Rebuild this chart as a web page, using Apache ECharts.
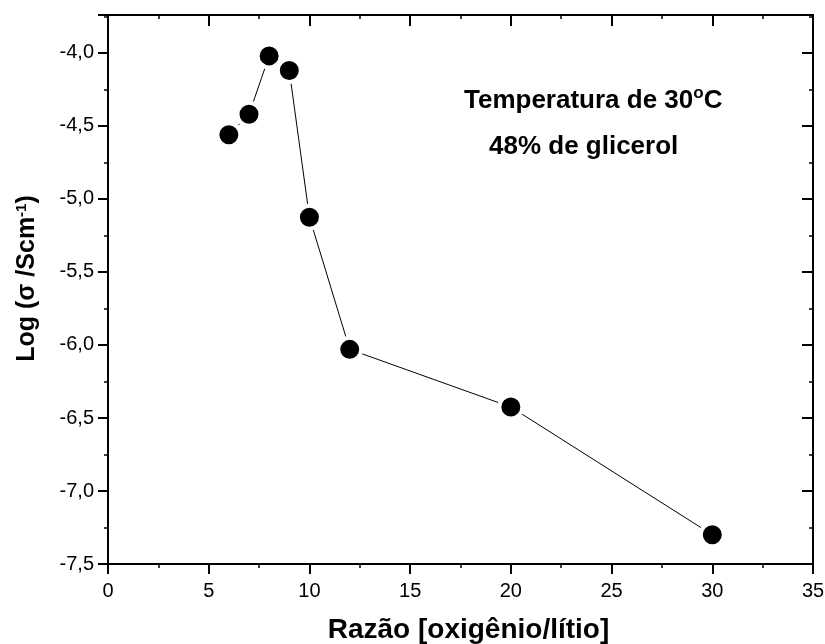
<!DOCTYPE html>
<html>
<head>
<meta charset="utf-8">
<script src="https://cdn.jsdelivr.net/npm/echarts@6/dist/echarts.min.js"></script>
<style>
  html, body { margin: 0; padding: 0; background: #fff; }
  #chart { width: 825px; height: 644px; }
</style>
</head>
<body>
<div id="chart"></div>
<script>
// razão O/Li e log da condutividade
const razao = [6, 7, 8, 9, 10, 12, 20, 30]
const logSigma = [-4.56, -4.42, -4.02, -4.12, -5.125, -6.03, -6.425, -7.30]
const notas = ['Temperatura de 30', '48% de glicerol']

const FONT = '"Liberation Sans", Arial, sans-serif'
const fmt = v => v.toFixed(1).replace('.', ',')

const chart = echarts.init(document.getElementById('chart'))

const axisCommon = {
  axisLine: { show: true, onZero: false, lineStyle: { color: '#000', width: 2 } },
  splitLine: { show: false }
}
const tickOut = { show: true, length: 10, lineStyle: { color: '#000', width: 2 } }
const tickIn = { show: true, inside: true, length: 11, lineStyle: { color: '#000', width: 2 } }
const minorOut = { show: true, splitNumber: 2, length: 4, lineStyle: { color: '#000', width: 1.5 } }

const option = {
  animation: false,
  backgroundColor: '#fff',
  grid: { left: 108, right: 12, top: 15, bottom: 80, outerBoundsMode: 'none' },
  xAxis: [
    {
      ...axisCommon,
      type: 'value', min: 0, max: 35, interval: 5,
      position: 'bottom',
      axisTick: tickOut,
      minorTick: minorOut,
      axisLabel: { color: '#000', fontSize: 20, fontFamily: FONT, margin: 17 },
      name: 'Razão [oxigênio/lítio]',
      nameLocation: 'middle', nameGap: 52,
      nameTextStyle: { color: '#000', fontSize: 28, fontWeight: 'bold', fontFamily: FONT, padding: [0, 0, 0, 16] }
    },
    {
      ...axisCommon,
      type: 'value', min: 0, max: 35, interval: 5,
      position: 'top',
      axisTick: tickIn,
      minorTick: { ...minorOut, inside: true },
      axisLabel: { show: false }
    }
  ],
  yAxis: [
    {
      ...axisCommon,
      type: 'value', min: -7.5, max: -3.74, interval: 0.5,
      position: 'left',
      axisTick: tickOut,
      minorTick: minorOut,
      axisLabel: {
        color: '#000', fontSize: 20, fontFamily: FONT, margin: 14,
        formatter: v => fmt(v), showMaxLabel: false
      },
      name: '{a|Log (σ /Scm}{s|-1}{a|)}',
      nameLocation: 'middle', nameGap: 67, nameRotate: 90,
      nameTextStyle: {
        color: '#000', fontFamily: FONT, padding: [0, 0, 0, 22],
        rich: {
          a: { fontSize: 25, fontWeight: 'bold', fontFamily: FONT, color: '#000' },
          s: { fontSize: 15, fontWeight: 'bold', fontFamily: FONT, color: '#000', verticalAlign: 'top', padding: [0, 0, 12, 0] }
        }
      }
    },
    {
      ...axisCommon,
      type: 'value', min: -7.5, max: -3.74, interval: 0.5,
      position: 'right',
      axisTick: tickIn,
      minorTick: { ...minorOut, inside: true },
      axisLabel: { show: false }
    }
  ],
  graphic: [
    {
      type: 'text', left: 464, top: 85,
      style: {
        text: '{a|' + notas[0] + '}{s|o}{a|C}',
        rich: {
          a: { fontSize: 26, fontWeight: 'bold', fontFamily: FONT, fill: '#000' },
          s: { fontSize: 17, fontWeight: 'bold', fontFamily: FONT, fill: '#000', verticalAlign: 'top', padding: [0, 0, 14, 0] }
        }
      }
    },
    {
      type: 'text', left: 489, top: 134,
      style: { text: notas[1], fontSize: 26, fontWeight: 'bold', fontFamily: FONT, fill: '#000' }
    }
  ],
  series: [
    {
      type: 'line',
      data: razao.map((x, i) => [x, logSigma[i]]),
      symbol: 'circle',
      symbolSize: 23,
      lineStyle: { color: '#000', width: 1 },
      itemStyle: { color: '#000', borderColor: '#fff', borderWidth: 4 },
      z: 3
    }
  ]
}

chart.setOption(option)
</script>
</body>
</html>
